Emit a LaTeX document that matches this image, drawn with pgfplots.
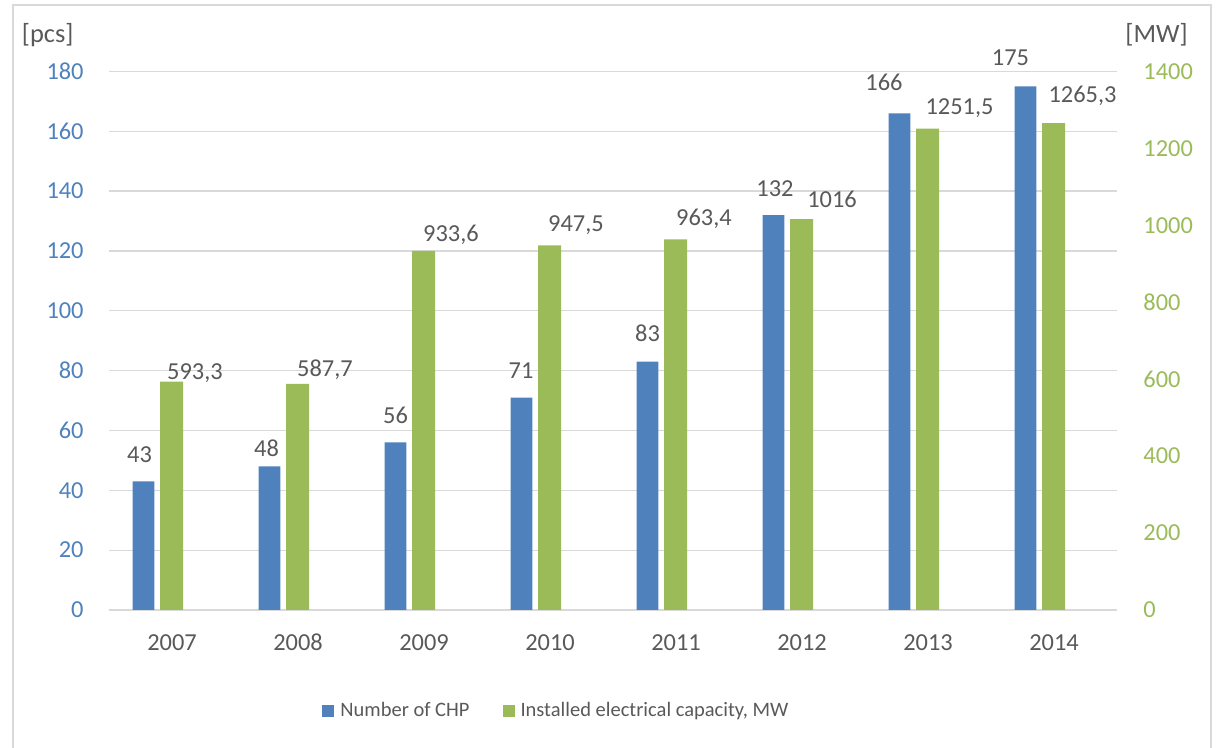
\documentclass[border=0pt]{standalone}
\usepackage{fontspec}
\setmainfont{Carlito}
\usepackage{pgfplots}
\pgfplotsset{compat=1.18}
\usepackage{pgfplotstable}

\definecolor{cblue}{RGB}{79,129,189}
\definecolor{cgreen}{RGB}{155,187,89}
\definecolor{ctext}{RGB}{89,89,89}
\definecolor{gridc}{RGB}{217,217,217}

% number of CHP plants (left axis); dx, dy place each value label (bp)
\pgfplotstableread{
x y lbl dx dy
0 43 43 -16.25 9.5
1 48 48 -15.75 5
2 56 56 -14.25 9.5
3 71 71 -14.5 9.5
4 83 83 -14.25 10
5 132 132 -13.5 9.5
6 166 166 -22 11.5
7 175 175 -21.75 10.5
}\chpcount

% installed electrical capacity, MW (right axis)
\pgfplotstableread{
x y lbl dx dy
0 593.3 593,3 11.5 1
1 587.7 587,7 13.5 3.5
2 933.6 933,6 13.5 4.5
3 947.5 947,5 13 7
4 963.4 963,4 14 7
5 1016 1016 15 6
6 1251.5 1251,5 15.75 7
7 1265.3 1265,3 14.25 10.5
}\chpcap

\pgfplotsset{
  set layers,
  common/.style={
    at={(54.5bp,69bp)}, anchor=south west,
    width=504bp, height=269.3bp, scale only axis,
    xmin=-0.5, xmax=7.5, ymin=0,
    axis line style={draw=none},
    major tick length=0pt, tick style={draw=none},
    clip=false,
    scaled y ticks=false,
    /pgf/number format/assume math mode=true,
    /pgf/number format/1000 sep={},
  },
  barlabels/.style={
    nodes near coords,
    point meta=explicit symbolic,
    visualization depends on={\thisrow{dx} \as \dx},
    visualization depends on={\thisrow{dy} \as \dy},
    every node near coord/.append style={
      anchor=base, xshift=\dx bp, yshift=\dy bp, inner sep=0pt,
      text=ctext, font=\fontsize{12.2bp}{14bp}\selectfont},
  },
}

\begin{document}
\begin{tikzpicture}
% outer chart frame
\draw[gridc, line width=1bp] (6.5bp,-2bp) -- (6.5bp,371.5bp) -- (605.5bp,371.5bp) -- (605.5bp,-2bp);

% right axis: installed capacity
\begin{axis}[common,
  ymax=1400, ytick={0,200,...,1400},
  hide x axis,
  yticklabel pos=right,
  yticklabel style={anchor=west, xshift=13bp, inner sep=0pt,
    text=cgreen, font=\fontsize{12.2bp}{14bp}\selectfont},
  legend image code/.code={\fill[#1] (0bp,-3bp) rectangle (6bp,3bp);},
  legend columns=2,
  legend cell align=left,
  legend style={draw=none, fill=none, at={(0.2113,-0.1875)}, anchor=west,
    inner sep=0pt, column sep=0pt,
    nodes={inner sep=0pt, text=ctext, font=\fontsize{10.25bp}{12bp}\selectfont}},
  /tikz/every odd column/.append style={column sep=3bp},
  /tikz/every even column/.append style={column sep=16.5bp},
]
\addlegendimage{fill=cblue, draw=none}
\addlegendentry{Number of CHP}
\addplot[ybar, fill=cgreen, draw=none, bar width=11.5bp, bar shift=-0.25bp, barlabels]
  table[x=x, y=y, meta=lbl] {\chpcap};
\addlegendentry{Installed electrical capacity, MW}
\end{axis}

% left axis: number of plants, with the category axis and grid
\begin{axis}[common,
  ymax=180, ytick={0,20,...,180},
  xtick={0,...,7},
  xticklabels={2007,2008,2009,2010,2011,2012,2013,2014},
  xticklabel style={anchor=base, yshift=-20.5bp, inner sep=0pt,
    text=ctext, font=\fontsize{12.2bp}{14bp}\selectfont},
  yticklabel style={anchor=east, xshift=-12.5bp, inner sep=0pt,
    text=cblue, font=\fontsize{12.2bp}{14bp}\selectfont},
  ymajorgrids, grid style={gridc, line width=0.65bp},
  extra y ticks={0}, extra y tick labels={},
  extra y tick style={grid style={gridc, line width=1.1bp}},
]
\addplot[ybar, fill=cblue, draw=none, bar width=10.8bp, bar shift=-14.25bp, barlabels]
  table[x=x, y=y, meta=lbl] {\chpcount};
\end{axis}

% axis units
\node[anchor=base west, inner sep=0pt, text=ctext, font=\fontsize{13.2bp}{15bp}\selectfont]
  at (10.8bp,352.6bp) {[pcs]};
\node[anchor=base west, inner sep=0pt, text=ctext, font=\fontsize{13.2bp}{15bp}\selectfont]
  at (562.5bp,352.6bp) {[MW]};

\pgfresetboundingbox
\useasboundingbox (0bp,0bp) rectangle (610.5bp,374bp);
\end{tikzpicture}
\end{document}
